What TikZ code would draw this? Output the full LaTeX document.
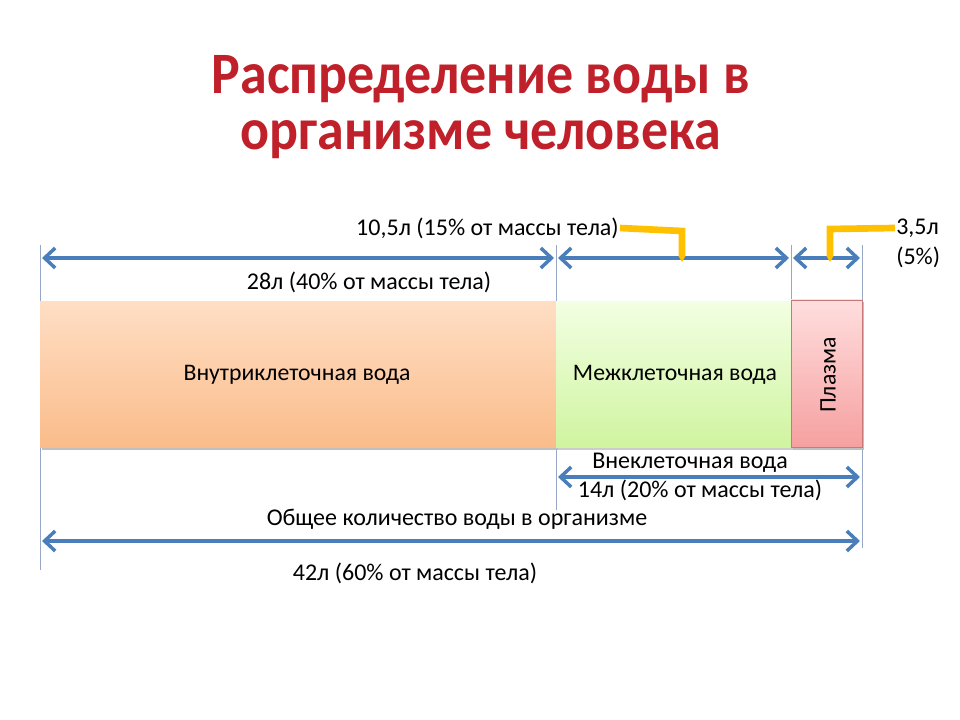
\documentclass[tikz,border=0pt]{standalone}
\usepackage{fontspec}
\setmainfont{Carlito}
\usetikzlibrary{arrows.meta}
\definecolor{titlered}{RGB}{192,32,42}
\definecolor{arrowblue}{RGB}{74,126,187}
\definecolor{guideblue}{RGB}{150,168,198}
\definecolor{markyellow}{RGB}{255,192,0}
\tikzset{
  dimline/.style={draw=arrowblue,line width=2.6pt,{Straight Barb[length=8pt,width=15pt]}-{Straight Barb[length=8pt,width=15pt]}},
  guide/.style={draw=guideblue,line width=0.5pt},
  pointer/.style={draw=markyellow,line width=5pt},
  lbl/.style={inner sep=0.75pt,font=\fontsize{18}{21}\selectfont},
  boxlbl/.style={inner sep=0.75pt,font=\fontsize{17.8}{21}\selectfont},
  ttl/.style={inner sep=0.75pt,text=titlered,xscale=0.92,font=\fontsize{44}{50}\bfseries\selectfont}
}
\begin{document}
\begin{tikzpicture}[x=0.75pt,y=0.75pt,yscale=-1,xscale=1]
\useasboundingbox (0,0) rectangle (960,720);

% Title
\node[ttl] (title1) at (481,79) {Распределение воды в};
\node[ttl] (title2) at (481,140) {организме человека};

%Straight Lines (guides)
\coordinate (g1t) at (40,245);  \coordinate (g1b) at (40,570);
\coordinate (g2t) at (556,245); \coordinate (g2b) at (556,510);
\coordinate (g3t) at (791,245); \coordinate (g3b) at (791,300);
\coordinate (g4t) at (862,245); \coordinate (g4b) at (862,548);
\draw[guide] (g1t) -- (g1b);
\draw[guide] (g2t) -- (g2b);
\draw[guide] (g3t) -- (g3b);
\draw[guide] (g4t) -- (g4b);

% Boxes
\fill[black!25] (42,305) rectangle (558,450);
\shade[top color={rgb,255:red,255;green,222;blue,196},bottom color={rgb,255:red,250;green,188;blue,138}] (40,302) rectangle (556,447);
\fill[black!20] (558,305) rectangle (793,450);
\shade[top color={rgb,255:red,242;green,255;blue,226},bottom color={rgb,255:red,208;green,244;blue,160}] (556,302) rectangle (791,447);
\fill[black!25] (793,302) rectangle (864,450);
\shade[top color={rgb,255:red,255;green,222;blue,222},bottom color={rgb,255:red,246;green,160;blue,160}] (791,300) rectangle (862,447);
\draw[draw={rgb,255:red,200;green,120;blue,120},line width=0.4pt] (791,300) rectangle (862,447);

% Text Node
\node[boxlbl] (intra) at (297,375) {Внутриклеточная вода};
\node[boxlbl] (inter) at (675,375) {Межклеточная вода};
\node[boxlbl,rotate=90] (plasma) at (828,375) {Плазма};

% Dimension arrows
\coordinate (a1l) at (42,258);  \coordinate (a1r) at (554,258);
\coordinate (a2l) at (558,258); \coordinate (a2r) at (789,258);
\coordinate (a3l) at (793,258); \coordinate (a3r) at (860,258);
\coordinate (a4l) at (558,477); \coordinate (a4r) at (860,477);
\coordinate (a5l) at (42,541);  \coordinate (a5r) at (860,541);
\draw[dimline] (a1l) -- (a1r);
\draw[dimline] (a2l) -- (a2r);
\draw[dimline] (a3l) -- (a3r);
\draw[dimline] (a4l) -- (a4r);
\draw[dimline] (a5l) -- (a5r);

% Text Node
\node[lbl,anchor=east] (inter-vol) at (620,228) {10,5л (15\% от массы тела)};
\node[lbl] (intra-vol) at (369,282) {28л (40\% от массы тела)};
\node[lbl,anchor=west] (plasma-vol) at (895,228) {3,5л};
\node[lbl,anchor=west] (plasma-pct) at (895,257) {(5\%)};
\node[lbl] (extra) at (690,463) {Внеклеточная вода};
\node[lbl] (extra-vol) at (700,490) {14л (20\% от массы тела)};
\node[lbl] (total) at (457,519) {Общее количество воды в организме};
\node[lbl] (total-vol) at (415,573) {42л (60\% от массы тела)};

% Yellow pointers
\coordinate (p1) at (682,231); \coordinate (p1e) at (682,256);
\coordinate (p2) at (830,229); \coordinate (p2e) at (830,256);
\draw[pointer] (inter-vol.east) -- (p1) -- (p1e);
\draw[pointer] (plasma-vol.west) -- (p2) -- (p2e);
\fill[markyellow] (678.5,256) -- (685.5,256) -- (682,262) -- cycle;
\fill[markyellow] (826.5,256) -- (833.5,256) -- (830,262) -- cycle;

\end{tikzpicture}
\end{document}
